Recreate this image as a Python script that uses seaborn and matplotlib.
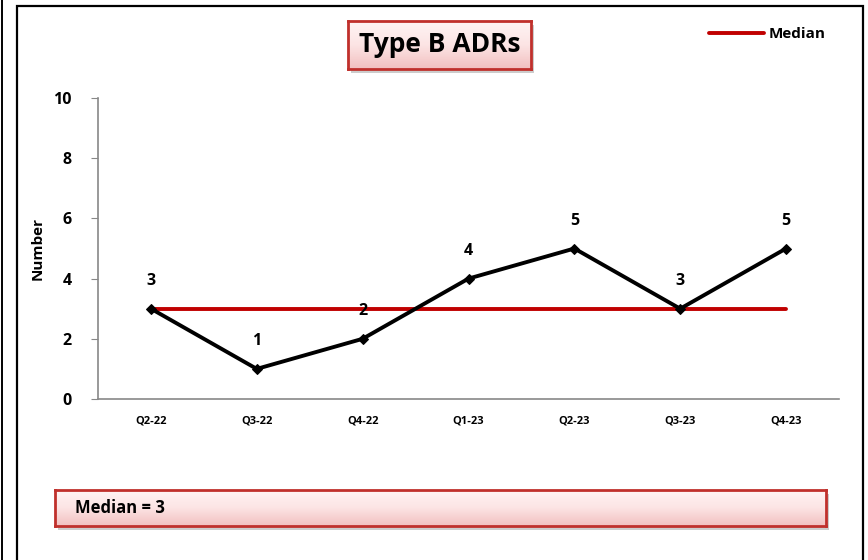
import numpy as np
import seaborn as sns
import matplotlib.pyplot as plt
from matplotlib.patches import Rectangle

# chart data
quarters = ["Q2-22", "Q3-22", "Q4-22", "Q1-23", "Q2-23", "Q3-23", "Q4-23"]
counts = [3, 1, 2, 4, 5, 3, 5]
median_value = 3
yticks = [0, 2, 4, 6, 8, 10]

sns.set_style("white")
plt.rcParams['font.family'] = ['Open Sans', 'Noto Sans', 'DejaVu Sans']
plt.rcParams['font.weight'] = 'bold'
plt.rcParams['text.color'] = 'black'

W, H = 868, 560
fig = plt.figure(figsize=(W / 100, H / 100), dpi=100)


def fig_box(x0, y0, x1, y1):
    # pixel box (top-left origin) -> figure fraction rect
    return [x0 / W, 1 - y1 / H, (x1 - x0) / W, (y1 - y0) / H]


# outer frame lines
fig.add_artist(Rectangle((17 / W, -0.01), (863 - 17) / W, 1 - 6 / H + 0.01,
                         transform=fig.transFigure, fill=False, ec="black", lw=1.6))
fig.add_artist(plt.Line2D([1.5 / W, 1.5 / W], [0, 1], transform=fig.transFigure, color="black", lw=1.4))

ax = fig.add_axes(fig_box(98, 98, 839, 399))
x = np.arange(len(quarters))

sns.lineplot(x=x, y=counts, ax=ax, color="black", lw=2.8, marker="D", markersize=5,
             markeredgecolor="black", sort=False, zorder=3)
sns.lineplot(x=x, y=[median_value] * len(quarters), ax=ax, color="#C00000", lw=2.8,
             label="Median", zorder=2)

for xi, v in zip(x, counts):
    ax.annotate(str(v), (xi, v), xytext=(0, 20), textcoords="offset points",
                ha="center", va="center", fontsize=11.5, fontweight="bold", color="black")

ax.set_xlim(-0.5, len(quarters) - 0.5)
ax.set_ylim(0, 10)
ax.set_yticks(yticks)
ax.set_xticks(x)
ax.set_xticklabels(quarters, fontsize=8, fontweight="bold", color="black")
ax.tick_params(axis="y", labelsize=11.5, labelcolor="black", length=5, color="#888888",
               direction="out", left=True, pad=14)
ax.tick_params(axis="x", length=0, pad=12)
ax.set_ylabel("Number", fontsize=11, fontweight="bold", labelpad=6, color="black")
for s in ["top", "right"]:
    ax.spines[s].set_visible(False)
for s in ["left", "bottom"]:
    ax.spines[s].set_color("#888888")
    ax.spines[s].set_linewidth(1.2)

leg = ax.legend(loc="upper left", bbox_to_anchor=((703 - 98) / 741, 1 + (98 - 21) / 301),
                frameon=False, handlelength=3.6, prop={"weight": "bold", "size": 11},
                handletextpad=0.3, borderaxespad=0, labelcolor="black")


def pink_box(x0, y0, x1, y1, text, fontsize, ha):
    # shadow
    fig.add_artist(Rectangle((x0 / W + 0.004, 1 - y1 / H - 0.008), (x1 - x0) / W, (y1 - y0) / H,
                             transform=fig.transFigure, fc="#9a9a9a", ec="none", alpha=0.5, zorder=1))
    bax = fig.add_axes(fig_box(x0, y0, x1, y1), zorder=2)
    grad = np.linspace(0, 1, 64).reshape(-1, 1)
    cmap = sns.blend_palette(["#FFF4F4", "#FCE4E4", "#F2C0C0"], as_cmap=True)
    bax.imshow(grad, aspect="auto", cmap=cmap, extent=[0, 1, 0, 1], origin="upper")
    bax.set_xticks([])
    bax.set_yticks([])
    for s in bax.spines.values():
        s.set_color("#C0302C")
        s.set_linewidth(2)
    tx = 0.5 if ha == "center" else 0.026
    bax.text(tx, 0.5, text, ha=ha, va="center", fontsize=fontsize, fontweight="bold",
             transform=bax.transAxes, color="black")


pink_box(348, 21, 531, 69, "Type B ADRs", 19, "center")
pink_box(55, 490, 826, 526, "Median = 3", 12, "left")

fig.savefig("out.png", dpi=100)
